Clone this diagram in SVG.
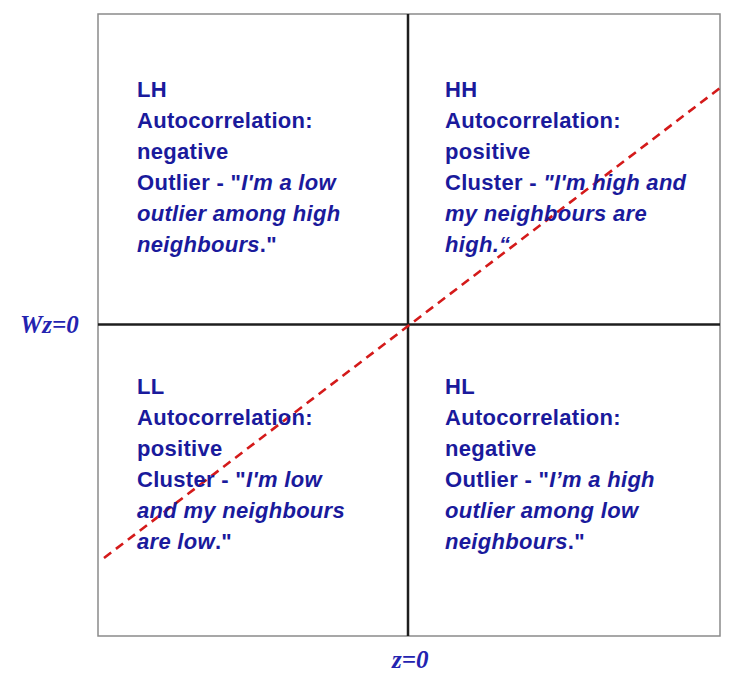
<svg xmlns="http://www.w3.org/2000/svg" width="740" height="681" viewBox="0 0 740 681">
<style>
.q{font-family:"Liberation Sans",Arial,sans-serif;font-weight:bold;font-size:22px;letter-spacing:0.3px;fill:#1a1a9c}
.i{font-style:italic}
.ax{font-family:"Liberation Serif","Times New Roman",serif;font-weight:bold;font-style:italic;font-size:25px;fill:#2323b0}
.frame{fill:#fff;stroke:#8a8a8a;stroke-width:1.5}
.axis{stroke:#1e1e1e;stroke-width:2.5}
.trend{stroke:#d41a1a;stroke-width:2.6;stroke-dasharray:9 6;fill:none}
</style>
<rect width="740" height="681" fill="#fff"/>
<g id="frame"><rect class="frame" x="98" y="14" width="622" height="622"/></g>
<g id="connectors">
<line class="axis" x1="408" y1="14" x2="408" y2="636"/>
<line class="axis" x1="98" y1="324.5" x2="720" y2="324.5"/>
<line class="trend" x1="104" y1="558" x2="720" y2="88"/>
</g>
<g id="LH">
<text class="q" x="137" y="97">LH</text>
<text class="q" x="137" y="128">Autocorrelation:</text>
<text class="q" x="137" y="159">negative</text>
<text class="q" x="137" y="190">Outlier - "<tspan class="i">I'm a low</tspan></text>
<text class="q i" x="137" y="221">outlier among high</text>
<text class="q" x="137" y="252"><tspan class="i">neighbours</tspan>."</text>
</g>
<g id="HH">
<text class="q" x="445" y="97">HH</text>
<text class="q" x="445" y="128">Autocorrelation:</text>
<text class="q" x="445" y="159">positive</text>
<text class="q" x="445" y="190">Cluster - <tspan class="i">"I'm high and</tspan></text>
<text class="q i" x="445" y="221">my neighbours are</text>
<text class="q i" x="445" y="252">high.“</text>
</g>
<g id="LL">
<text class="q" x="137" y="394">LL</text>
<text class="q" x="137" y="425">Autocorrelation:</text>
<text class="q" x="137" y="456">positive</text>
<text class="q" x="137" y="487">Cluster - "<tspan class="i">I'm low</tspan></text>
<text class="q i" x="137" y="518">and my neighbours</text>
<text class="q" x="137" y="549"><tspan class="i">are low</tspan>."</text>
</g>
<g id="HL">
<text class="q" x="445" y="394">HL</text>
<text class="q" x="445" y="425">Autocorrelation:</text>
<text class="q" x="445" y="456">negative</text>
<text class="q" x="445" y="487">Outlier - "<tspan class="i">I’m a high</tspan></text>
<text class="q i" x="445" y="518">outlier among low</text>
<text class="q" x="445" y="549"><tspan class="i">neighbours</tspan>."</text>
</g>
<g id="axis-labels">
<text class="ax" x="20" y="333">Wz=0</text>
<text class="ax" x="392" y="668">z=0</text>
</g>
</svg>
